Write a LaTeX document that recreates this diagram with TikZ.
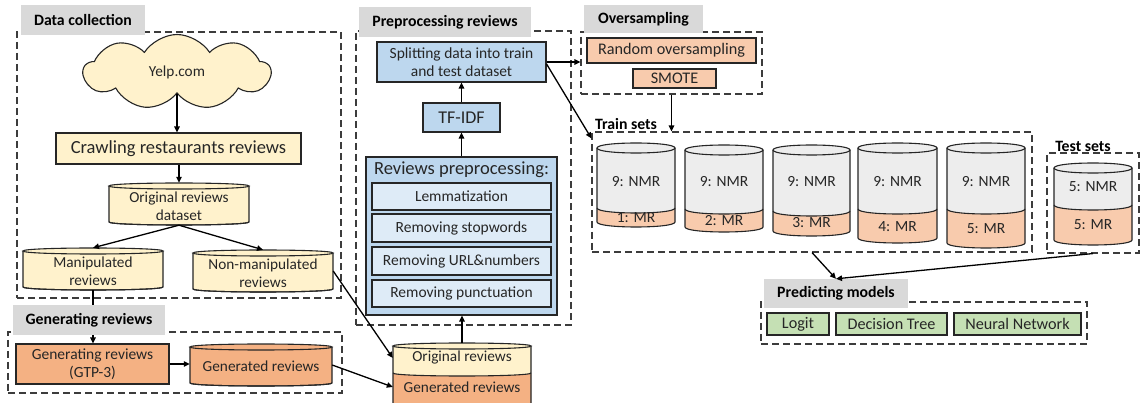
\documentclass[tikz,border=0pt]{standalone}
\usepackage{fontspec}
\setmainfont{Carlito}
\usetikzlibrary{arrows.meta,shapes.symbols,fit,calc}

\definecolor{cream}{HTML}{FFF2CC}
\definecolor{peach}{HTML}{F4B183}
\definecolor{apricot}{HTML}{F8CBAD}
\definecolor{skyblue}{HTML}{BDD7EE}
\definecolor{paleblue}{HTML}{DEEBF7}
\definecolor{tag}{HTML}{D9D9D9}
\definecolor{mist}{HTML}{EDEDED}
\definecolor{sage}{HTML}{C5E0B4}
\definecolor{ink}{HTML}{262626}

\tikzset{
  box/.style={draw=ink, line width=1.1pt, inner sep=0pt, align=center, text=ink,
    font=\fontsize{15.5}{17.5}\selectfont},
  frame/.style={draw=ink!90, line width=1.1pt, dash pattern=on 7pt off 4pt, inner sep=0pt},
  tagbox/.style={fill=tag, inner sep=0pt, text=black, font=\bfseries\fontsize{15.8}{17}\selectfont},
  tagtext/.style={inner sep=0pt, text=black, font=\bfseries\fontsize{15.8}{17}\selectfont},
  arr/.style={line width=1.3pt, draw=black, -{Triangle[length=6pt,width=5.5pt]}},
  drumline/.style={draw=ink, line width=1.1pt},
  txt/.style={font=\fontsize{15.3}{17.5}\selectfont, align=center, inner sep=0pt, text=ink},
  drumtxt/.style={font=\fontsize{15.5}{17}\selectfont, align=center, inner sep=0pt, text=ink},
}

% cylinder: name, x left, x right, y top, y split, y bottom, rim radius, upper fill, lower fill
\newcommand{\drum}[9]{%
  \pgfmathsetmacro\dA{#4+#7}%
  \pgfmathsetmacro\dB{#6-#7}%
  \pgfmathsetmacro\dK{1.333*#7}%
  \fill[#8] (#2,\dA) -- (#2,\dB) .. controls (#2,\dB+\dK) and (#3,\dB+\dK) .. (#3,\dB) -- (#3,\dA) -- cycle;
  \fill[#9] (#2,#5) -- (#2,\dB) .. controls (#2,\dB+\dK) and (#3,\dB+\dK) .. (#3,\dB)
     -- (#3,#5) .. controls (#3,#5+\dK) and (#2,#5+\dK) .. (#2,#5) -- cycle;
  \draw[drumline] (#2,#5) .. controls (#2,#5+\dK) and (#3,#5+\dK) .. (#3,#5);
  \draw[drumline] (#2,\dA) -- (#2,\dB) .. controls (#2,\dB+\dK) and (#3,\dB+\dK) .. (#3,\dB) -- (#3,\dA);
  \filldraw[drumline, fill=#8] (#2,\dA) .. controls (#2,\dA-\dK) and (#3,\dA-\dK) .. (#3,\dA)
     .. controls (#3,\dA+\dK) and (#2,\dA+\dK) .. (#2,\dA) -- cycle;
  \node[fit={(#2,#4) (#3,#6)}, inner sep=0pt] (#1) {};
}

\begin{document}
\begin{tikzpicture}[x=1pt, y=-1pt]
\useasboundingbox (0,0) rectangle (1141,403);
\fill[white] (0,0) rectangle (1141,403);
\clip (0,0) rectangle (1141,403);

% ---- dashed group frames
\node[frame, fit={(17,32) (341,298)}] (dcframe) {};
\node[frame, fit={(8,332) (342,393)}] (genframe) {};
\node[frame, fit={(356,31) (571,325)}] (prepframe) {};
\node[frame, fit={(581,32) (762,94)}] (overframe) {};
\node[frame, fit={(592,132) (1032,252)}] (trainframe) {};
\node[frame, fit={(1047,153) (1139,253)}] (testframe) {};
\node[frame, fit={(761,302) (1087,344)}] (predframe) {};

% ---- data collection
\node[cloud, cloud puffs=9, cloud puff arc=115, aspect=2.5, draw=ink, line width=1.1pt,
  fill=cream, minimum width=187pt, minimum height=75pt, inner sep=0pt,
  text=ink, font=\fontsize{15.3}{17}\selectfont] (yelp) at (177,72) {Yelp.com};
\node[box, fill=cream, minimum width=245pt, minimum height=31pt,
  font=\fontsize{18.5}{20}\selectfont] (crawl) at (178.5,148.5) {Crawling restaurants reviews};
\drum{orig}{109}{249}{183}{222}{225}{3}{cream}{cream}
\node[txt] (origtxt) at (179,206) {Original reviews\\dataset};
\drum{manip}{23}{163}{248}{287}{290}{3}{cream}{cream}
\node[txt] (maniptxt) at (93,271) {Manipulated\\reviews};
\drum{nonmanip}{193}{333}{250}{289}{292}{3}{cream}{cream}
\node[txt] (nonmaniptxt) at (263,273) {Non-manipulated\\reviews};

% ---- generating reviews
\node[box, fill=peach, minimum width=153pt, minimum height=40pt] (gtp) at (92.5,364) {Generating reviews\\(GTP-3)};
\drum{gen}{190}{332}{344}{383}{386}{3}{peach}{peach}
\node[txt] (gentxt) at (261,366) {Generated reviews};

% ---- combined review store
\drum{stack}{393}{531}{343}{373}{412}{3}{cream}{peach}
\node[txt, minimum width=138pt] (origpart) at (462,358) {Original reviews};
\node[txt, minimum width=138pt] (genpart) at (462,387) {Generated reviews};

% ---- preprocessing
\node[box, fill=skyblue, minimum width=169pt, minimum height=40pt] (split) at (461.5,62) {Splitting data into train\\and test dataset};
\node[box, fill=skyblue, minimum width=77pt, minimum height=29pt,
  font=\fontsize{18}{20}\selectfont] (tfidf) at (461.5,117.5) {TF-IDF};
\node[box, fill=skyblue, minimum width=191pt, minimum height=158pt] (prep) at (461.5,236) {};
\node[txt, font=\fontsize{18.5}{20}\selectfont] (prephead) at (461.5,170) {Reviews preprocessing:};
\node[box, fill=paleblue, minimum width=179pt, minimum height=27pt] (lemma) at (461.5,196.5) {Lemmatization};
\node[box, fill=paleblue, minimum width=179pt, minimum height=28pt] (stopw) at (461.5,228) {Removing stopwords};
\node[box, fill=paleblue, minimum width=179pt, minimum height=28pt] (urlnum) at (461.5,261) {Removing URL\&numbers};
\node[box, fill=paleblue, minimum width=179pt, minimum height=27pt] (punct) at (461.5,293.5) {Removing punctuation};

% ---- oversampling
\node[box, fill=apricot, minimum width=169pt, minimum height=25pt,
  font=\fontsize{16.2}{18}\selectfont] (ros) at (671.5,50.5) {Random oversampling};
\node[box, fill=apricot, minimum width=83pt, minimum height=19pt,
  font=\fontsize{16.2}{18}\selectfont] (smote) at (674.5,78.5) {SMOTE};

% ---- train sets
\drum{t1}{597}{675}{143}{208}{227}{5}{mist}{apricot}
\drum{t2}{685}{763}{145}{209}{232}{5}{mist}{apricot}
\drum{t3}{773}{850}{145}{211}{236}{5}{mist}{apricot}
\drum{t4}{858}{937}{143}{209}{243}{5}{mist}{apricot}
\drum{t5}{947}{1025}{143}{209}{248}{5}{mist}{apricot}
\node[drumtxt] (t1a) at (636,182) {9: NMR};
\node[drumtxt] (t2a) at (724,182) {9: NMR};
\node[drumtxt] (t3a) at (811.5,182) {9: NMR};
\node[drumtxt] (t4a) at (897.5,182) {9: NMR};
\node[drumtxt] (t5a) at (986,182) {9: NMR};
\node[drumtxt] (t1b) at (636,218) {1: MR};
\node[drumtxt] (t2b) at (724,221) {2: MR};
\node[drumtxt] (t3b) at (811.5,223) {3: MR};
\node[drumtxt] (t4b) at (897.5,227) {4: MR};
\node[drumtxt] (t5b) at (986,229) {5: MR};

% ---- test set
\drum{ts}{1054}{1132}{163}{205}{245}{5}{mist}{apricot}
\node[drumtxt] (tsa) at (1093,187) {5: NMR};
\node[drumtxt] (tsb) at (1093,225) {5: MR};

% ---- predicting models
\tikzset{model/.style={box, fill=sage, minimum height=22pt, font=\fontsize{16.2}{18}\selectfont}}
\node[model, minimum width=62pt] (logit) at (798,324) {Logit};
\node[model, minimum width=111pt] (dtree) at (891.5,324) {Decision Tree};
\node[model, minimum width=127pt] (nnet) at (1017.5,324) {Neural Network};

% ---- connectors
\draw[arr] (yelp.south) -- (yelp.south |- crawl.north);
\draw[arr] (crawl.south -| orig.north) -- (orig.north);
\draw[arr] (orig.south) -- (manip.north);
\draw[arr] (orig.south) -- (nonmanip.north);
\draw[arr] (manip.south) -- (manip.south |- gtp.north);
\draw[arr] (gtp.east) -- (gtp.east -| gen.west);
\draw[arr] (gen.east) -- (genpart.west);
\draw[arr] (nonmanip.east) -- (origpart.west);
\draw[arr] (stack.north) -- (stack.north |- prep.south);
\draw[arr] (prep.north) -- (tfidf.south);
\draw[arr] (tfidf.north) -- (split.south);
\draw[arr] (split.east) -- (split.east -| overframe.west);
\draw[arr] ([yshift=-2pt]split.east) -- ([yshift=-7pt]trainframe.north west);
\draw[arr] (overframe.south) -- (overframe.south |- trainframe.north);

% ---- group titles
\node[tagbox, minimum width=124pt, minimum height=30pt] (dctag) at (83,20) {Data collection};
\node[tagbox, minimum width=152pt, minimum height=30pt] (gentag) at (89,320) {Generating reviews};
\node[tagbox, minimum width=172pt, minimum height=30pt] (preptag) at (445,22) {Preprocessing reviews};
\node[tagbox, minimum width=119pt, minimum height=28pt] (overtag) at (643.5,19) {Oversampling};
\node[tagbox, minimum width=144pt, minimum height=29pt] (predtag) at (836,293.5) {Predicting models};
\node[tagtext] (traintag) at (626,124) {Train sets};
\node[tagtext] (testtag) at (1083,146) {Test sets};

\draw[arr] (trainframe.south) -- (predtag.north);
\draw[arr] (testframe.south) -- (predtag.north);
\end{tikzpicture}
\end{document}
